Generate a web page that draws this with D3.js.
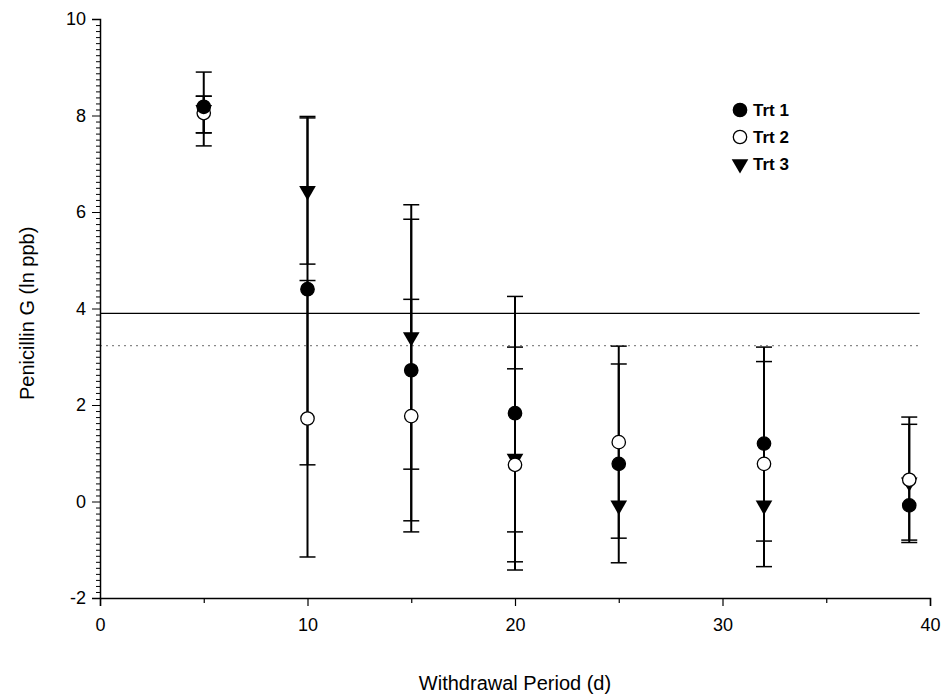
<!DOCTYPE html>
<html>
<head>
<meta charset="utf-8">
<script src="https://cdn.jsdelivr.net/npm/d3@7"></script>
<style>
  body { margin: 0; background: #fff; }
  text { font-family: "Liberation Sans", Arial, sans-serif; }
</style>
</head>
<body>
<div class="chart"></div>
<script>
// withdrawal days
var days = [5, 10, 15, 20, 25, 32, 39];

// means and error bar ends (ln ppb)
var trt1Mean = [8.18, 4.40, 2.72, 1.83, 0.78, 1.20, -0.08];
var trt1Low  = [7.37, 0.76, -0.40, -0.63, -1.27, -0.82, null];
var trt1High = [8.90, 7.98, 5.85, 4.25, 2.85, 3.20, null];

var trt2Mean = [8.05, 1.72, 1.77, 0.76, 1.23, 0.78, 0.45];
var trt2Low  = [7.64, -1.15, -0.63, -1.25, -0.76, -1.35, -0.85];
var trt2High = [8.40, 4.58, 4.19, 2.75, 3.22, 2.90, 1.75];

var trt3Mean = [8.12, 6.44, 3.41, 0.89, -0.08, -0.08, 0.40];
var trt3Low  = [7.64, 4.92, 0.67, -1.42, null, null, -0.80];
var trt3High = [8.40, 7.95, 6.15, 3.20, null, null, 1.60];

var solidLine = 3.90;
var dottedLine = 3.23;

var xTicks = [0, 10, 20, 30, 40];
var yTicks = [-2, 0, 2, 4, 6, 8, 10];
var seriesNames = ["Trt 1", "Trt 2", "Trt 3"];

function loadChart(){
  var svg = d3.select(".chart").append("svg")
              .attr("width", 948)
              .attr("height", 698);

  var x = d3.scaleLinear().domain([0, 40]).range([100, 930]);
  var y = d3.scaleLinear().domain([-2, 10]).range([598, 19]);

  // reference lines
  svg.append("line")
     .attr("x1", x(0)).attr("x2", x(39.5))
     .attr("y1", y(solidLine)).attr("y2", y(solidLine))
     .attr("stroke", "#000").attr("stroke-width", 1.2);
  svg.append("line")
     .attr("x1", x(0)).attr("x2", x(39.5))
     .attr("y1", y(dottedLine)).attr("y2", y(dottedLine))
     .attr("stroke", "#888").attr("stroke-width", 1.2)
     .attr("stroke-dasharray", "2,4");

  // axes
  var xAxis = d3.axisBottom(x).tickValues(d3.range(0, 41, 5)).tickSize(8)
                .tickFormat(function(d){ return xTicks.indexOf(d) >= 0 ? d : ""; });
  var gx = svg.append("g").attr("transform", "translate(0," + y(-2) + ")").call(xAxis);
  gx.select(".domain").attr("stroke-width", 1.5);
  gx.selectAll(".tick line").attr("stroke-width", 1.2)
    .attr("y2", function(d){ return xTicks.indexOf(d) >= 0 ? 8 : 5; });
  gx.selectAll("text").attr("font-size", 18).attr("dy", "1.2em").attr("fill", "#000");

  var yAxis = d3.axisLeft(y).tickValues(d3.range(-2, 10.01, 0.125)).tickSize(8)
                .tickFormat(function(d){ return yTicks.indexOf(d) >= 0 ? d : ""; });
  var gy = svg.append("g").attr("transform", "translate(" + x(0) + ",0)").call(yAxis);
  gy.select(".domain").attr("stroke-width", 1.5);
  gy.selectAll(".tick line").attr("stroke-width", 1)
    .attr("x2", function(d){ return yTicks.indexOf(d) >= 0 ? -8 : -4; });
  gy.selectAll("text").attr("font-size", 18).attr("x", -14).attr("fill", "#000");
  svg.selectAll(".domain").attr("stroke", "#000");

  svg.append("text").attr("x", 515).attr("y", 690)
     .attr("text-anchor", "middle").attr("font-size", 20)
     .text("Withdrawal Period (d)");
  svg.append("text")
     .attr("transform", "translate(34," + y(3.9) + ") rotate(-90)")
     .attr("text-anchor", "middle").attr("font-size", 20)
     .text("Penicillin G (ln ppb)");

  var series = [
    { name: seriesNames[0], mean: trt1Mean, low: trt1Low, high: trt1High, shape: "fill" },
    { name: seriesNames[1], mean: trt2Mean, low: trt2Low, high: trt2High, shape: "open" },
    { name: seriesNames[2], mean: trt3Mean, low: trt3Low, high: trt3High, shape: "tri" }
  ];

  // error bars
  series.forEach(function(s){
    var pts = days.map(function(d, i){ return { day: d, lo: s.low[i], hi: s.high[i] }; })
                  .filter(function(p){ return p.lo !== null; });
    var g = svg.append("g");
    g.selectAll(".stem").data(pts).enter().append("line")
     .attr("x1", function(p){ return x(p.day); }).attr("x2", function(p){ return x(p.day); })
     .attr("y1", function(p){ return y(p.lo); }).attr("y2", function(p){ return y(p.hi); })
     .attr("stroke", "#000").attr("stroke-width", 2);
    ["lo", "hi"].forEach(function(k){
      g.selectAll(".cap-" + k).data(pts).enter().append("line")
       .attr("x1", function(p){ return x(p.day) - 8; }).attr("x2", function(p){ return x(p.day) + 8; })
       .attr("y1", function(p){ return y(p[k]); }).attr("y2", function(p){ return y(p[k]); })
       .attr("stroke", "#000").attr("stroke-width", 1.5);
    });
  });

  var tri = d3.symbol().type(d3.symbolTriangle).size(120);

  function drawMarks(g, s, pts){
    if (s.shape === "tri") {
      g.selectAll("path").data(pts).enter().append("path")
       .attr("d", tri)
       .attr("transform", function(p){ return "translate(" + p.cx + "," + p.cy + ") rotate(180)"; })
       .attr("fill", "#000");
    } else {
      g.selectAll("circle").data(pts).enter().append("circle")
       .attr("cx", function(p){ return p.cx; }).attr("cy", function(p){ return p.cy; })
       .attr("r", 6.7)
       .attr("fill", s.shape === "fill" ? "#000" : "#fff")
       .attr("stroke", "#000").attr("stroke-width", 1.3);
    }
  }

  // markers: draw trt 3, then trt 2, then trt 1 on top
  [series[2], series[1], series[0]].forEach(function(s){
    var pts = days.map(function(d, i){ return { cx: x(d), cy: y(s.mean[i]) }; });
    drawMarks(svg.append("g"), s, pts);
  });

  // legend
  var lg = svg.append("g");
  series.forEach(function(s, i){
    var ly = 110 + i * 27;
    drawMarks(lg.append("g"), s, [{ cx: 740, cy: ly }]);
    lg.append("text").attr("x", 753).attr("y", ly + 6)
      .attr("font-size", 17).attr("font-weight", "bold")
      .text(s.name);
  });
}

loadChart();
</script>
</body>
</html>
